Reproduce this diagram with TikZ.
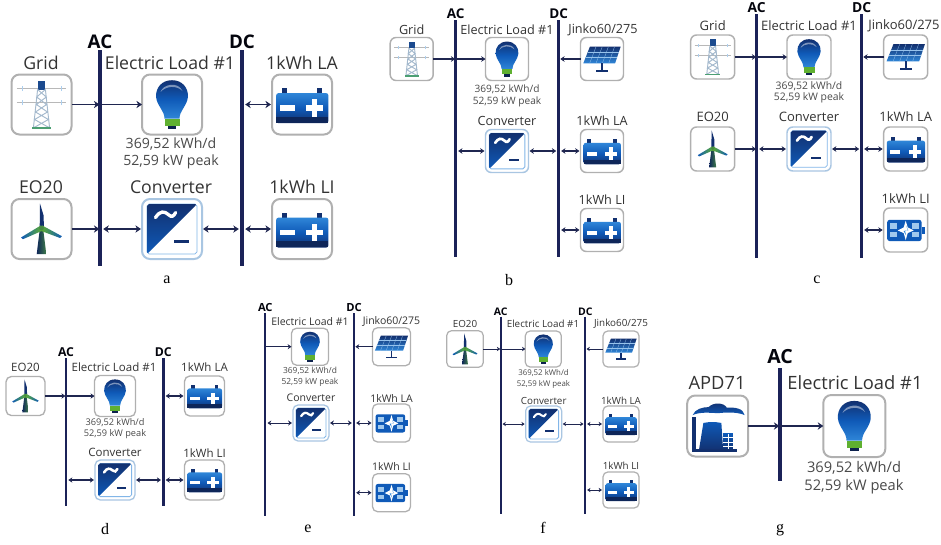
\documentclass[tikz,border=0pt]{standalone}
\usepackage{fontspec}
\usetikzlibrary{arrows.meta}
\setmainfont{Open Sans}
\newfontfamily\capfont{Liberation Serif}
\definecolor{busc}{HTML}{1B2258}
\definecolor{wirec}{HTML}{1F2650}
\definecolor{boxc}{HTML}{B0B0B0}
\definecolor{convc}{HTML}{A9C6E2}
\definecolor{labc}{HTML}{333333}
\definecolor{loadc}{HTML}{4A4A4A}
\definecolor{navy}{HTML}{12306F}
\definecolor{midb}{HTML}{0F5AB8}
\definecolor{lightb}{HTML}{2F86D8}
\definecolor{greenb}{HTML}{5FB030}
\def\bup{.14}
\newcommand{\SetP}[4]{%
  \def\pf{#1}\def\pw{#2}\def\pb{#3}\def\pbox{#4}%
  \pgfmathsetmacro{\pfl}{1.25*#1}%
  \pgfmathsetmacro{\pfb}{1.33*#1}%
  \pgfmathsetmacro{\al}{3.8*#2}%
  \pgfmathsetmacro{\aw}{5*#2}%
  \pgfmathsetmacro{\rc}{4*#4}%
}
\SetP{10}{1}{2}{1}
\tikzset{
  busline/.style={draw=busc,line width=\pb pt},
  wire/.style={draw=wirec,line width=\pw pt,>={Stealth[length=\al pt,width=\aw pt]}},
  lab/.style={font=\fontsize{\pfl pt}{\pfl pt}\selectfont,text=labc,inner sep=0pt},
  loadlab/.style={font=\fontsize{\pf pt}{\pf pt}\selectfont,text=loadc,inner sep=0pt},
  buslab/.style={font=\fontsize{\pfb pt}{\pfb pt}\selectfont\bfseries,text=black!85!busc,inner sep=0pt},
  figcap/.style={font=\capfont\fontsize{12pt}{12pt}\selectfont,text=black,inner sep=0pt},
  iconbox/.style={draw=boxc,fill=white,line width=\pbox pt,rounded corners=\rc pt,inner sep=0pt,outer sep=0pt},
}
% --- icons, unit box [-1,1]^2, y downwards ---
\newcommand{\bulbicon}{%
  \path[top color=navy,bottom color=lightb,middle color=midb] (0,-.81) .. controls (.35,-.81) and (.55,-.55) .. (.53,-.25) .. controls (.5,.05) and (.25,.2) .. (.25,.47) -- (-.25,.47) .. controls (-.25,.2) and (-.5,.05) .. (-.53,-.25) .. controls (-.55,-.55) and (-.35,-.81) .. (0,-.81) -- cycle;
  \path[fill=white,fill opacity=.45] (-.38,-.42) .. controls (-.3,-.68) and (.2,-.78) .. (.35,-.45) .. controls (.15,-.65) and (-.2,-.62) .. (-.38,-.42) -- cycle;
  \path[fill=greenb] (-.25,.47) rectangle (.25,.72);
  \path[fill=navy!70!black] (-.14,.72) rectangle (.14,.82);
}
\newcommand{\solaricon}{%
  \path[top color=navy,bottom color=lightb] (-.56,-.58) -- (.87,-.58) -- (.61,.2) -- (-.87,.2) -- cycle;
  \foreach \t in {.33,.66}{\draw[lightb!50!white,line width=.22pt] ({-.56-.31*\t},{-.58+.78*\t}) -- ({.87-.26*\t},{-.58+.78*\t});}
  \foreach \t in {.2,.4,.6,.8}{\draw[lightb!50!white,line width=.22pt] ({-.56+1.43*\t},-.58) -- ({-.87+1.48*\t},.2);}
  \path[fill=navy] (-.05,.2) rectangle (.05,.52);
  \path[fill=navy] (-.28,.52) rectangle (.28,.6);
}
\newcommand{\battery}{%
  \path[fill=navy] (-.68,-.55) rectangle (-.5,-.3);
  \path[fill=navy] (.5,-.55) rectangle (.68,-.3);
  \path[rounded corners=.06cm,top color=lightb,bottom color=navy,middle color=midb] (-.86,-.38) rectangle (.88,.62);
  \path[fill=navy!80!black] (-.86,.4) rectangle (.88,.6);
  \path[fill=white] (-.72,.03) rectangle (-.24,.21);
  \path[fill=white] (.14,.03) rectangle (.7,.21);
  \path[fill=white] (.33,-.17) rectangle (.51,.41);
}
\newcommand{\lithium}{%
  \path[rounded corners=.06cm,fill=midb] (-.84,-.46) rectangle (.72,.5);
  \path[fill=midb] (.72,-.14) rectangle (.86,.18);
  \path[fill=lightb!45!white] (-.72,-.3) rectangle (-.4,-.06);
  \path[fill=lightb!45!white] (-.72,.1) rectangle (-.4,.34);
  \path[fill=lightb!45!white] (.3,-.3) rectangle (.6,-.06);
  \path[fill=lightb!45!white] (.3,.1) rectangle (.6,.34);
  \path[fill=white] (0,-.42) -- (.09,-.12) -- (.36,.02) -- (.09,.14) -- (0,.46) -- (-.09,.14) -- (-.36,.02) -- (-.09,-.12) -- cycle;
  \path[fill=lightb] (.02,-.2) -- (.1,.02) -- (-.1,.04) -- (.02,.25) -- (-.03,.04) -- (.12,.02) -- cycle;
}
\newcommand{\converter}{%
  \path[fill=white,draw=lightb!60!white,line width=.6pt,rounded corners=.05cm] (-.83,-.83) rectangle (.83,.83);
  \path[top color=navy,bottom color=midb,rounded corners=.05cm] (-.83,.83) -- (-.83,-.83) -- (.83,-.83) -- cycle;
  \draw[white,line width=\pb pt,line cap=round] (-.55,-.38) .. controls (-.4,-.62) and (-.25,-.6) .. (-.12,-.48) .. controls (-.02,-.38) and (.06,-.42) .. (.12,-.55);
  \path[fill=navy] (.08,.36) rectangle (.55,.47);
}
\newcommand{\turbine}{%
  \path[left color=navy!80!black,right color=greenb!60!navy] (-.05,-.05) -- (.05,-.05) -- (.16,.84) -- (-.16,.84) -- cycle;
  \path[fill=navy] (-.06,-.06) -- (-.05,-.85) -- (.07,-.45) -- (.08,-.06) -- cycle;
  \path[left color=midb,right color=greenb] (-.02,-.12) -- (-.68,.28) -- (-.62,.34) -- (.02,.06) -- cycle;
  \path[left color=greenb,right color=midb] (.02,-.12) -- (.68,.24) -- (.62,.3) -- (-.02,.06) -- cycle;
  \path[fill=greenb!70!navy] (0,-.03) circle[radius=.08];
}
\newcommand{\gridtower}{%
  \draw[black!28,line width=.35pt] (-.82,-.54) -- (.82,-.54) (-.82,-.06) -- (.82,-.06);
  \draw[lightb!40!white,line width=.3pt] (-.65,-.46) -- (-.65,-.61) (.65,-.46) -- (.65,-.61) (-.65,.02) -- (-.65,-.14) (.65,.02) -- (.65,-.14);
  \path[fill=navy!70!lightb] (-.13,-.8) rectangle (.13,-.5);
  \draw[lightb!60!black!40!white,line width=.7pt] (-.13,-.5) -- (-.27,.78) (.13,-.5) -- (.27,.78) (-.13,-.5) -- (.16,-.25) -- (-.17,0) -- (.2,.25) -- (-.23,.5) -- (.27,.78) (.13,-.5) -- (-.16,-.25) -- (.17,0) -- (-.2,.25) -- (.23,.5) -- (-.27,.78);
  \path[fill=greenb!60!lightb] (-.33,.76) rectangle (.33,.82);
}
\newcommand{\plant}{%
  \path[top color=navy,bottom color=midb] (-.82,-.36) .. controls (-.75,-.55) and (-.5,-.62) .. (-.3,-.62) .. controls (-.15,-.78) and (.2,-.78) .. (.3,-.6) .. controls (.55,-.62) and (.85,-.58) .. (.88,-.36) .. controls (.6,-.48) and (.2,-.44) .. (0,-.42) .. controls (-.3,-.44) and (-.6,-.46) .. (-.82,-.36) -- cycle;
  \path[fill=navy] (-.84,-.3) rectangle (-.72,.82);
  \path[top color=midb,bottom color=navy] (-.62,.82) -- (-.47,-.1) .. controls (-.3,-.14) and (-.05,-.14) .. (.12,-.1) -- (.18,.82) -- cycle;
  \path[top color=midb,bottom color=navy] (.18,.25) rectangle (.5,.82);
  \foreach \y in {.38,.52,.66}{\draw[white,line width=.5pt] (.18,\y) -- (.5,\y);}
  \draw[white,line width=.5pt] (.34,.25) -- (.34,.82);
  \path[fill=navy] (-.84,.76) rectangle (.62,.84);
}
% [extra] name cx cy icon half
\newcommand{\Icon}[6][]{%
  \node[iconbox,minimum size={2*#6*0.75pt},#1] (#2) at (#3,#4) {};
  \begin{scope}[shift={(#3,#4)},x={#6*0.75pt},y={-#6*0.75pt}]#5\end{scope}%
}
\newcommand{\FeedBus}[2]{\draw[wire,->,shorten >=.4pt] (#1.east) -- (#1.east -| #2);}
\newcommand{\BusFeed}[2]{\draw[wire,->] (#1.west -| #2) -- (#1.west);}
\newcommand{\BiLeft}[2]{\draw[wire,<->,shorten <=2.2*\pw pt,shorten >=.8pt] (#1.west -| #2) -- (#1.west);}
\newcommand{\BiRight}[2]{\draw[wire,<->,shorten >=2.2*\pw pt,shorten <=.8pt] (#1.east) -- (#1.east -| #2);}
\newcommand{\SolarBus}[2]{\draw[wire,->,shorten >=1.4*\pw pt] (#1.west) -- (#1.west -| #2);}
\newcommand{\Bus}[5]{% name, label, x, y1, y2
  \coordinate (#1-t) at (#3,#4); \coordinate (#1-b) at (#3,#5);
  \node[buslab,anchor=base] (#1-lab) at ([yshift=\bup*\pf pt]#1-t) {#2};
  \draw[busline] (#1-t) -- (#1-b);
}
\newcommand{\LoadText}[4]{% name, x, y1, y2
  \node[loadlab] (#1-t1) at (#2,#3) {369,52 kWh/d};
  \node[loadlab] (#1-t2) at (#2,#4) {52,59 kW peak};
}
\begin{document}
\begin{tikzpicture}[x=0.75pt,y=-0.75pt]
\useasboundingbox (0,0) rectangle (941,544);
\path[fill=white] (0,0) rectangle (941,544);
% ===== a =====
\SetP{10.6}{1.1}{2.5}{1.5}
\Bus{aA}{AC}{100}{50}{266}
\Bus{aD}{DC}{242}{50}{266}
\Icon{a-grid}{41.5}{104.5}{\gridtower}{30}
\Icon{a-load}{172}{104.5}{\bulbicon}{30}
\Icon{a-la}{302}{104.5}{\battery}{30}
\Icon{a-eo}{41.5}{229}{\turbine}{30}
\Icon[draw=convc]{a-conv}{172}{229}{\converter}{30}
\Icon{a-li}{302}{229}{\battery}{30}
\node[lab] (a-l1) at (41,63) {Grid};
\node[lab] (a-l2) at (170,63) {Electric Load \#1};
\node[lab] (a-l3) at (302,63) {1kWh LA};
\node[lab] (a-l4) at (41,187) {EO20};
\node[lab] (a-l5) at (171,187) {Converter};
\node[lab] (a-l6) at (302,187) {1kWh LI};
\LoadText{a-lt}{171}{144}{162}
\FeedBus{a-grid}{aA-t}\BusFeed{a-load}{aA-t}\BiLeft{a-la}{aD-t}
\FeedBus{a-eo}{aA-t}\BiLeft{a-conv}{aA-t}\BiRight{a-conv}{aD-t}\BiLeft{a-li}{aD-t}
\node[figcap] (a-c) at (167,280) {a};
% ===== b =====
\SetP{7.6}{.85}{2}{1.1}
\Bus{bA}{AC}{455.7}{20}{257}
\Bus{bD}{DC}{558.7}{20}{257}
\Icon{b-grid}{411.7}{59}{\gridtower}{21.5}
\Icon{b-load}{507}{59}{\bulbicon}{21.5}
\Icon{b-pv}{602}{59}{\solaricon}{21.5}
\Icon[draw=convc]{b-conv}{507}{151}{\converter}{21.5}
\Icon{b-la}{602}{151}{\battery}{21.5}
\Icon{b-li}{602}{230}{\battery}{21.5}
\node[lab] (b-l1) at (411.7,30) {Grid};
\node[lab] (b-l2) at (507,30) {Electric Load \#1};
\node[lab] (b-l3) at (603,30) {Jinko60/275};
\node[lab] (b-l5) at (507,121) {Converter};
\node[lab] (b-l6) at (602,121) {1kWh LA};
\node[lab] (b-l7) at (602,200) {1kWh LI};
\LoadText{b-lt}{507}{89}{102}
\FeedBus{b-grid}{bA-t}\BusFeed{b-load}{bA-t}\SolarBus{b-pv}{bD-t}
\BiLeft{b-conv}{bA-t}\BiRight{b-conv}{bD-t}\BiLeft{b-la}{bD-t}\BiLeft{b-li}{bD-t}
\node[figcap] (b-c) at (509,280) {b};
% ===== c =====
\SetP{7.8}{.85}{2}{1.1}
\Bus{cA}{AC}{756.7}{14}{258}
\Bus{cD}{DC}{861.7}{14}{258}
\Icon{c-grid}{712.7}{57}{\gridtower}{22}
\Icon{c-load}{809}{57}{\bulbicon}{22}
\Icon{c-pv}{905.7}{57}{\solaricon}{22}
\Icon{c-eo}{712.7}{149}{\turbine}{22}
\Icon[draw=convc]{c-conv}{809}{149}{\converter}{22}
\Icon{c-la}{905.7}{149}{\battery}{22}
\Icon{c-li}{905.7}{230}{\lithium}{22}
\node[lab] (c-l1) at (712.7,26) {Grid};
\node[lab] (c-l2) at (809,26) {Electric Load \#1};
\node[lab] (c-l3) at (904,26) {Jinko60/275};
\node[lab] (c-l4) at (712.7,117) {EO20};
\node[lab] (c-l5) at (809,117) {Converter};
\node[lab] (c-l6) at (905.7,117) {1kWh LA};
\node[lab] (c-l7) at (905.7,199) {1kWh LI};
\LoadText{c-lt}{809}{86}{98}
\FeedBus{c-grid}{cA-t}\BusFeed{c-load}{cA-t}\SolarBus{c-pv}{cD-t}
\FeedBus{c-eo}{cA-t}\BiLeft{c-conv}{cA-t}\BiRight{c-conv}{cD-t}\BiLeft{c-la}{cD-t}\BiLeft{c-li}{cD-t}
\node[figcap] (c-c) at (817,280) {c};
% ===== d =====
\SetP{6.9}{.8}{1.9}{1}
\Bus{dA}{AC}{66}{358}{506}
\Bus{dD}{DC}{163.3}{358}{506}
\Icon{d-eo}{25.5}{396}{\turbine}{19.5}
\Icon{d-load}{115}{396}{\bulbicon}{20.5}
\Icon{d-la}{204.5}{396}{\battery}{20}
\Icon[draw=convc]{d-conv}{115}{480}{\converter}{20}
\Icon{d-li}{204.5}{480}{\battery}{20}
\node[lab] (d-l1) at (25.5,367) {EO20};
\node[lab] (d-l2) at (114,367) {Electric Load \#1};
\node[lab] (d-l3) at (204.5,367) {1kWh LA};
\node[lab] (d-l5) at (115,452.7) {Converter};
\node[lab] (d-l6) at (204.5,452.7) {1kWh LI};
\LoadText{d-lt}{115}{422.7}{434}
\FeedBus{d-eo}{dA-t}\BusFeed{d-load}{dA-t}\BiLeft{d-la}{dD-t}
\BiLeft{d-conv}{dA-t}\BiRight{d-conv}{dD-t}\BiLeft{d-li}{dD-t}
\node[figcap] (d-c) at (105,529) {d};
% ===== e =====
\SetP{6.3}{.75}{1.7}{.95}
\Bus{eA}{AC}{265.3}{313}{516}
\Bus{eD}{DC}{354}{313}{516}
\Icon{e-load}{310}{346.7}{\bulbicon}{18.5}
\Icon{e-pv}{391.5}{346.7}{\solaricon}{19}
\Icon[draw=convc]{e-conv}{311}{423}{\converter}{18}
\Icon{e-la}{391.5}{423}{\lithium}{19}
\Icon{e-li}{391.5}{492.7}{\lithium}{19}
\node[lab] (e-l2) at (310,321.7) {Electric Load \#1};
\node[lab] (e-l3) at (391.5,321.7) {Jinko60/275};
\node[lab] (e-l5) at (311,398) {Converter};
\node[lab] (e-l6) at (391.5,398) {1kWh LA};
\node[lab] (e-l7) at (391.5,466.7) {1kWh LI};
\LoadText{e-lt}{310}{371}{382.7}
\BusFeed{e-load}{eA-t}\SolarBus{e-pv}{eD-t}
\BiLeft{e-conv}{eA-t}\BiRight{e-conv}{eD-t}\BiLeft{e-la}{eD-t}\BiLeft{e-li}{eD-t}
\node[figcap] (e-c) at (308,529) {e};
% ===== f =====
\SetP{5.9}{.65}{1.5}{.9}
\Bus{fA}{AC}{500.7}{316.7}{514}
\Bus{fD}{DC}{585.3}{316.7}{514}
\Icon{f-eo}{465}{349}{\turbine}{18.3}
\Icon{f-load}{543.3}{349}{\bulbicon}{18}
\Icon{f-pv}{621}{349}{\solaricon}{18}
\Icon[draw=convc]{f-conv}{543.7}{424}{\converter}{18}
\Icon{f-la}{621}{424}{\battery}{18}
\Icon{f-li}{621}{490}{\battery}{18}
\node[lab] (f-l1) at (465,324) {EO20};
\node[lab] (f-l2) at (543,324) {Electric Load \#1};
\node[lab] (f-l3) at (621,324) {Jinko60/275};
\node[lab] (f-l5) at (543.7,400.7) {Converter};
\node[lab] (f-l6) at (621,400.7) {1kWh LA};
\node[lab] (f-l7) at (621,465.7) {1kWh LI};
\LoadText{f-lt}{543.5}{372.7}{384}
\FeedBus{f-eo}{fA-t}\BusFeed{f-load}{fA-t}\SolarBus{f-pv}{fD-t}
\BiLeft{f-conv}{fA-t}\BiRight{f-conv}{fD-t}\BiLeft{f-la}{fD-t}\BiLeft{f-li}{fD-t}
\node[figcap] (f-c) at (543,528) {f};
% ===== g =====
\SetP{11}{1.1}{2.5}{1.5}
\def\bup{.32}
\Bus{gA}{AC}{780}{368}{480.7}
\Icon{g-apd}{717.7}{426}{\plant}{30.5}
\Icon{g-load}{854.3}{426}{\bulbicon}{31}
\node[lab] (g-l1) at (717,382.7) {APD71};
\node[lab] (g-l2) at (855,382.7) {Electric Load \#1};
\LoadText{g-lt}{854}{468}{486.7}
\FeedBus{g-apd}{gA-t}\BusFeed{g-load}{gA-t}
\node[figcap] (g-c) at (780,530) {g};
\end{tikzpicture}
\end{document}
